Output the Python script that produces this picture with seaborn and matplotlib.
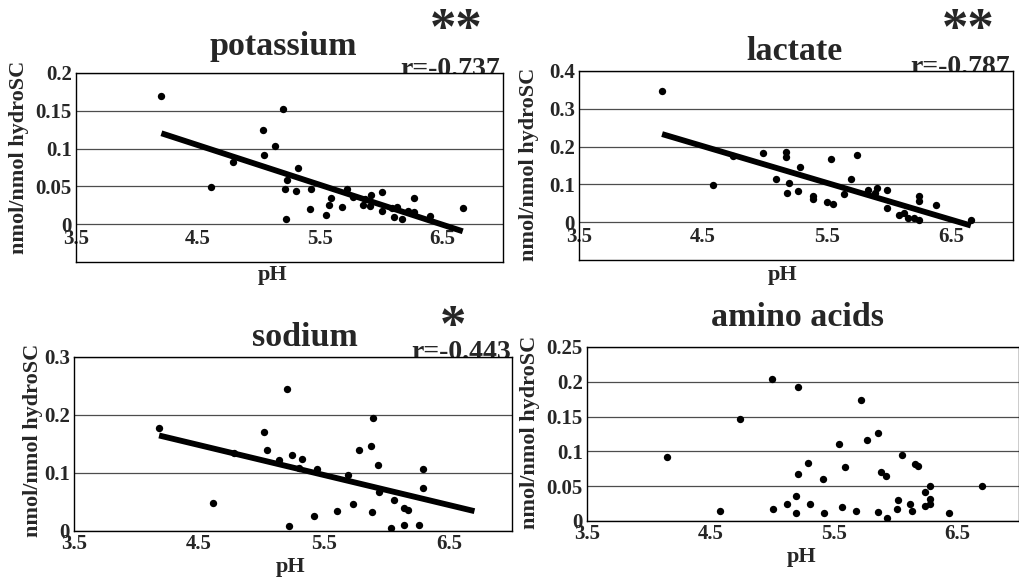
import numpy as np
import pandas as pd
import matplotlib
matplotlib.use("Agg")
import matplotlib.pyplot as plt
import seaborn as sns

# ---------------- data ----------------
k_ph = [4.20, 4.61, 4.79, 5.03, 5.04, 5.13, 5.20, 5.22, 5.21, 5.23, 5.30, 5.32, 5.42, 5.43,
        5.55, 5.57, 5.59, 5.68, 5.72, 5.77, 5.85, 5.87, 5.91, 5.92, 6.01, 6.01, 6.09, 6.11,
        6.13, 6.17, 6.22, 6.27, 6.27, 6.40, 6.67]
k_val = [0.169, 0.049, 0.082, 0.125, 0.092, 0.103, 0.152, 0.007, 0.046, 0.059, 0.044, 0.074,
         0.020, 0.047, 0.012, 0.026, 0.034, 0.023, 0.046, 0.036, 0.026, 0.033, 0.024, 0.038,
         0.043, 0.018, 0.022, 0.009, 0.023, 0.007, 0.018, 0.035, 0.016, 0.011, 0.021]

lac_ph = [4.17, 4.58, 4.74, 4.98, 5.09, 5.17, 5.17, 5.19, 5.18, 5.27, 5.28, 5.39, 5.39, 5.50,
          5.53, 5.55, 5.64, 5.69, 5.74, 5.83, 5.90, 5.89, 5.98, 5.98, 6.08, 6.12, 6.15, 6.20,
          6.24, 6.24, 6.24, 6.38, 6.66]
lac_val = [0.348, 0.098, 0.176, 0.183, 0.115, 0.185, 0.172, 0.104, 0.076, 0.082, 0.146, 0.069,
           0.062, 0.053, 0.167, 0.049, 0.075, 0.114, 0.179, 0.084, 0.091, 0.077, 0.086, 0.038,
           0.018, 0.025, 0.011, 0.011, 0.069, 0.055, 0.005, 0.045, 0.007]

na_ph = [4.18, 4.61, 4.78, 5.02, 5.04, 5.14, 5.20, 5.22, 5.24, 5.32, 5.30, 5.42, 5.44, 5.60,
         5.69, 5.73, 5.78, 5.87, 5.88, 5.89, 5.93, 5.94, 6.03, 6.06, 6.14, 6.17, 6.14, 6.26,
         6.29, 6.29]
na_val = [0.178, 0.049, 0.135, 0.171, 0.140, 0.123, 0.244, 0.009, 0.131, 0.124, 0.109, 0.026,
          0.107, 0.034, 0.097, 0.047, 0.140, 0.147, 0.033, 0.194, 0.114, 0.067, 0.006, 0.053,
          0.040, 0.037, 0.010, 0.010, 0.107, 0.074]

aa_ph = [4.15, 4.58, 4.74, 5.00, 5.01, 5.12, 5.19, 5.19, 5.21, 5.21, 5.29, 5.31, 5.41, 5.42,
         5.54, 5.57, 5.59, 5.68, 5.72, 5.77, 5.86, 5.86, 5.88, 5.92, 5.93, 6.01, 6.02, 6.05,
         6.12, 6.13, 6.16, 6.18, 6.24, 6.24, 6.28, 6.28, 6.28, 6.43, 6.70]
aa_val = [0.092, 0.014, 0.147, 0.204, 0.017, 0.024, 0.036, 0.012, 0.193, 0.067, 0.083, 0.025,
          0.061, 0.012, 0.111, 0.020, 0.078, 0.014, 0.174, 0.116, 0.126, 0.013, 0.071, 0.065,
          0.004, 0.017, 0.030, 0.095, 0.025, 0.014, 0.082, 0.079, 0.022, 0.041, 0.051, 0.032,
          0.024, 0.012, 0.050]

titles = ["potassium", "lactate", "sodium", "amino acids"]
r_labels = ["r=-0.737", "r=-0.787", "r=-0.443", None]
stars = ["**", "**", "*", None]
x_ticks = [3.5, 4.5, 5.5, 6.5]
x_tick_labels = ["3.5", "4.5", "5.5", "6.5"]
k_yticks = [0, 0.05, 0.1, 0.15, 0.2]
k_ylabels = ["0", "0.05", "0.1", "0.15", "0.2"]
lac_yticks = [0, 0.1, 0.2, 0.3, 0.4]
lac_ylabels = ["0", "0.1", "0.2", "0.3", "0.4"]
na_yticks = [0, 0.1, 0.2, 0.3]
na_ylabels = ["0", "0.1", "0.2", "0.3"]
aa_yticks = [0, 0.05, 0.1, 0.15, 0.2, 0.25]
aa_ylabels = ["0", "0.05", "0.1", "0.15", "0.2", "0.25"]

# ---------------- style ----------------
sns.set_theme(style="white")
plt.rcParams["font.family"] = ["Liberation Serif", "DejaVu Serif"]
plt.rcParams["font.weight"] = "bold"

W, H = 1020, 578
fig = plt.figure(figsize=(W / 100, H / 100), dpi=100)
fig.patch.set_facecolor("white")


def px_rect(l, t, r, b):
    return [l / W, 1 - b / H, (r - l) / W, (b - t) / H]


axes_rects = [px_rect(76, 73, 503, 262), px_rect(579, 71, 1013, 260),
              px_rect(74, 357, 512, 531), px_rect(587, 347, 1019, 521)]
ylims = [(-0.05, 0.2), (-0.1, 0.4), (0, 0.3), (0, 0.25)]
yticks = [k_yticks, lac_yticks, na_yticks, aa_yticks]
yticklabels = [k_ylabels, lac_ylabels, na_ylabels, aa_ylabels]
datasets = [(k_ph, k_val), (lac_ph, lac_val), (na_ph, na_val), (aa_ph, aa_val)]
fits = [True, True, True, False]
all_ph = k_ph + lac_ph + na_ph + aa_ph

title_pos = [(283, 47), (795, 52), (305, 338), (798, 318)]
star_pos = [(456, 7), (968, 7), (453, 304), None]
r_pos = [(500, 76), (1010, 74), (511, 359), None]
ylabel_pos = [(19, 157), (529, 164), (33, 440), (530, 432)]
xlabel_pos = [(273, 275), (783, 275), (291, 567), (802, 557)]

for i in range(4):
    ax = fig.add_axes(axes_rects[i])
    ax.set_facecolor("white")
    df = pd.DataFrame({"pH": datasets[i][0], "val": datasets[i][1]})
    sns.scatterplot(data=df, x="pH", y="val", ax=ax, color="black", s=28,
                    edgecolor="black", linewidth=0, zorder=3)
    if fits[i]:
        # fitted line drawn over the pH range of the whole sample set
        ax.set_xlim(min(datasets[i][0]), max(all_ph) if i == 2 else max(datasets[i][0]))
        sns.regplot(data=df, x="pH", y="val", ax=ax, scatter=False, ci=None,
                    truncate=False, line_kws={"color": "black", "lw": 4.2,
                                              "solid_capstyle": "butt", "zorder": 4})
    ax.set_xlim(3.5, 7.0)
    ax.set_ylim(*ylims[i])
    ax.set_xticks(x_ticks)
    ax.set_xticklabels(x_tick_labels, fontsize=15, fontweight="bold")
    ax.set_yticks(yticks[i])
    ax.set_yticklabels(yticklabels[i], fontsize=15, fontweight="bold")
    ax.grid(axis="y", color="0.3", lw=0.9)
    ax.grid(axis="x", visible=False)
    ax.set_axisbelow(True)
    for sp in ax.spines.values():
        sp.set_visible(True)
        sp.set_color("black")
        sp.set_linewidth(1.0)
    ax.tick_params(axis="both", length=0)
    ax.tick_params(axis="y", pad=3)
    if i < 2:
        # x tick labels sit just beneath the zero line, inside the frame
        ax.tick_params(axis="x", pad=-24)
    else:
        ax.tick_params(axis="x", pad=2)
    ax.set_xlabel("")
    ax.set_ylabel("")
    fig.text(ylabel_pos[i][0] / W, 1 - ylabel_pos[i][1] / H, "nmol/nmol hydroSC",
             rotation=90, ha="center", va="center", fontsize=16, fontweight="bold")
    fig.text(xlabel_pos[i][0] / W, 1 - xlabel_pos[i][1] / H, "pH",
             ha="center", va="center", fontsize=16, fontweight="bold")
    fig.text(title_pos[i][0] / W, 1 - title_pos[i][1] / H, titles[i], ha="center",
             va="center", fontsize=24.5, fontweight="bold")
    if star_pos[i] is not None:
        fig.text(star_pos[i][0] / W, 1 - star_pos[i][1] / H, stars[i], ha="center",
                 va="top", fontsize=38, fontweight="bold")
        fig.text(r_pos[i][0] / W, 1 - r_pos[i][1] / H, r_labels[i], ha="right",
                 va="baseline", fontsize=20, fontweight="bold", zorder=-1)

fig.savefig("out.png", dpi=100, facecolor="white")
